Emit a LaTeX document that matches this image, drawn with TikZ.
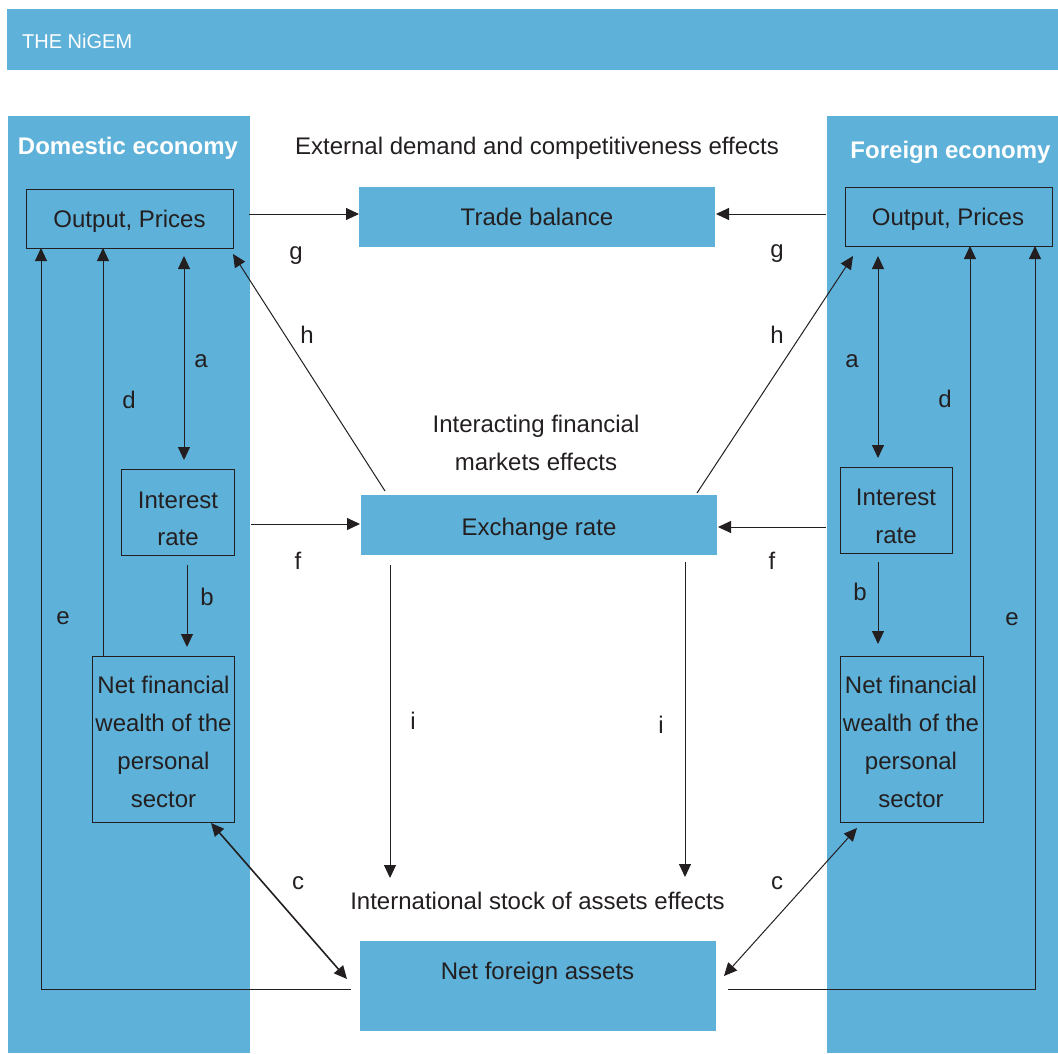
\documentclass[tikz,border=0pt]{standalone}
\usepackage{fontspec}
\setmainfont{Liberation Sans}
\usetikzlibrary{arrows.meta}
\definecolor{nblue}{HTML}{5EB1D8}
\definecolor{ink}{HTML}{231F20}
\newcommand{\fsz}{\fontsize{24}{28}\selectfont}
\begin{document}
\begin{tikzpicture}[x=1pt,y=-1pt,
  panel/.style={fill=nblue,draw=none,inner sep=0pt,outer sep=0pt,anchor=north west},
  frbox/.style={draw=ink,line width=1pt,fill=nblue,inner sep=0pt,outer sep=0pt,anchor=north west},
  flbox/.style={fill=nblue,draw=none,inner sep=0pt,outer sep=0pt,anchor=north west},
  lbl/.style={font=\fsz,text=ink,inner sep=0pt,anchor=base},
  ttl/.style={font=\fontsize{24}{28}\selectfont\bfseries,text=white,inner sep=0pt,anchor=base},
  tip/.tip={Triangle[length=13pt,width=12pt]},
  arr/.style={-tip,line width=1pt,draw=ink},
  darr/.style={tip-tip,line width=1pt,draw=ink},
  ln/.style={line width=1pt,draw=ink}]
\useasboundingbox (0,0) rectangle (1058,1053);
% header
\node[panel,minimum width=1051pt,minimum height=61pt] (hdr) at (7,9) {};
\node[anchor=base west,font=\fontsize{20}{24}\selectfont,text=white,inner sep=0pt] (hdrt) at (22,48.5) {THE NiGEM};
% panels
\node[panel,minimum width=242pt,minimum height=937pt] (dom) at (8,116) {};
\node[panel,minimum width=231pt,minimum height=937pt] (for) at (827,116) {};
\node[ttl] (domt) at (128,154) {Domestic economy};
\node[ttl] (fort) at (950.5,158) {Foreign economy};
% central texts
\node[lbl] (ext) at (537,154) {External demand and competitiveness effects};
\node[lbl] (ifm1) at (536,432) {Interacting financial};
\node[lbl] (ifm2) at (536,470) {markets effects};
\node[lbl] (isa) at (537.5,909) {International stock of assets effects};
% central boxes
\node[flbox,minimum width=356pt,minimum height=60pt] (tb) at (359,187) {};
\node[lbl] (tbt) at (537,225) {Trade balance};
\node[flbox,minimum width=356pt,minimum height=60pt] (er) at (361,495) {};
\node[lbl] (ert) at (539,535) {Exchange rate};
\node[flbox,minimum width=356pt,minimum height=90pt] (nfa) at (360,941) {};
\node[lbl] (nfat) at (537.5,979) {Net foreign assets};
% domestic boxes
\node[frbox,minimum width=207pt,minimum height=59pt] (dop) at (26,189) {};
\node[lbl] (dopt) at (129.5,227) {Output, Prices};
\node[frbox,minimum width=113pt,minimum height=86pt] (dir) at (121,469) {};
\node[lbl] (dirt1) at (178,508) {Interest};
\node[lbl] (dirt2) at (178,545) {rate};
\node[frbox,minimum width=142pt,minimum height=166pt] (dnw) at (92,656) {};
\node[lbl] (dnw1) at (163.5,693) {Net financial};
\node[lbl] (dnw2) at (163.5,731) {wealth of the};
\node[lbl] (dnw3) at (163.5,769) {personal};
\node[lbl] (dnw4) at (163.5,807) {sector};
% foreign boxes
\node[frbox,minimum width=207pt,minimum height=59pt] (fop) at (845,187) {};
\node[lbl] (fopt) at (948,225) {Output, Prices};
\node[frbox,minimum width=112pt,minimum height=86pt] (fir) at (840,467) {};
\node[lbl] (firt1) at (896,505) {Interest};
\node[lbl] (firt2) at (896,543) {rate};
\node[frbox,minimum width=143pt,minimum height=166pt] (fnw) at (840,656) {};
\node[lbl] (fnw1) at (911,693) {Net financial};
\node[lbl] (fnw2) at (911,731) {wealth of the};
\node[lbl] (fnw3) at (911,769) {personal};
\node[lbl] (fnw4) at (911,807) {sector};
% free end coordinates
\coordinate (g1s) at (249,214);
\coordinate (g2s) at (826,214);
\coordinate (h1s) at (385,491);
\coordinate (h1e) at (233,254);
\coordinate (h2s) at (697,493);
\coordinate (h2e) at (853,256);
\coordinate (f1s) at (251,524);
\coordinate (f2s) at (826,527);
\coordinate (a1s) at (184,256);
\coordinate (a1e) at (184,460);
\coordinate (a2s) at (878,256);
\coordinate (a2e) at (878,458);
\coordinate (b1s) at (187,565);
\coordinate (b1e) at (187,647);
\coordinate (b2s) at (878,562);
\coordinate (b2e) at (878,644);
\coordinate (e1s) at (351,989);
\coordinate (e2s) at (728,989);
\coordinate (c1a) at (211,823);
\coordinate (c1b) at (347,979);
\coordinate (c2a) at (857,828);
\coordinate (c2b) at (724,976);
\coordinate (i1s) at (390,565);
\coordinate (i1e) at (390,878);
\coordinate (i2s) at (685,562);
\coordinate (i2e) at (685,877);
% g
\draw[arr] (g1s) -- (tb.west |- g1s);
\draw[arr] (g2s) -- ([xshift=1pt]tb.east |- g2s);
% h
\draw[arr] (h1s) -- (h1e);
\draw[arr] (h2s) -- (h2e);
% f
\draw[arr] (f1s) -- ([xshift=-1pt]er.west |- f1s);
\draw[arr] (f2s) -- ([xshift=1pt]er.east |- f2s);
% a
\draw[darr] (a1s) -- (a1e);
\draw[darr] (a2s) -- (a2e);
% b
\draw[arr] (b1s) -- (b1e);
\draw[arr] (b2s) -- (b2e);
% d
\draw[arr] (dnw.north -| 103,0) -- (dop.south -| 103,0);
\draw[arr] (fnw.north -| 970,0) -- (fop.south -| 970,0);
% e
\draw[arr] (e1s) -- (41,989) -- (dop.south -| 41,0);
\draw[arr] (e2s) -- (1035,989) -- (fop.south -| 1035,0);
% c
\draw[darr,line width=1.6pt] (c1a) -- (c1b);
\draw[darr] (c2a) -- (c2b);
% i
\draw[arr] (i1s) -- (i1e);
\draw[arr] (i2s) -- (i2e);
% labels
\node[lbl] (lg1) at (296,259.5) {g};
\node[lbl] (lg2) at (777,257.5) {g};
\node[lbl] (lh1) at (307,343) {h};
\node[lbl] (lh2) at (777,343) {h};
\node[lbl] (la1) at (201,367) {a};
\node[lbl] (la2) at (852,367) {a};
\node[lbl] (ld1) at (129,408) {d};
\node[lbl] (ld2) at (945,407) {d};
\node[lbl] (lf1) at (298,569) {f};
\node[lbl] (lf2) at (772,569) {f};
\node[lbl] (lb1) at (207,605) {b};
\node[lbl] (lb2) at (860,600) {b};
\node[lbl] (le1) at (63,624) {e};
\node[lbl] (le2) at (1012,625) {e};
\node[lbl] (li1) at (413,729) {i};
\node[lbl] (li2) at (661,733) {i};
\node[lbl] (lc1) at (298,889) {c};
\node[lbl] (lc2) at (777,889) {c};
\end{tikzpicture}
\end{document}
